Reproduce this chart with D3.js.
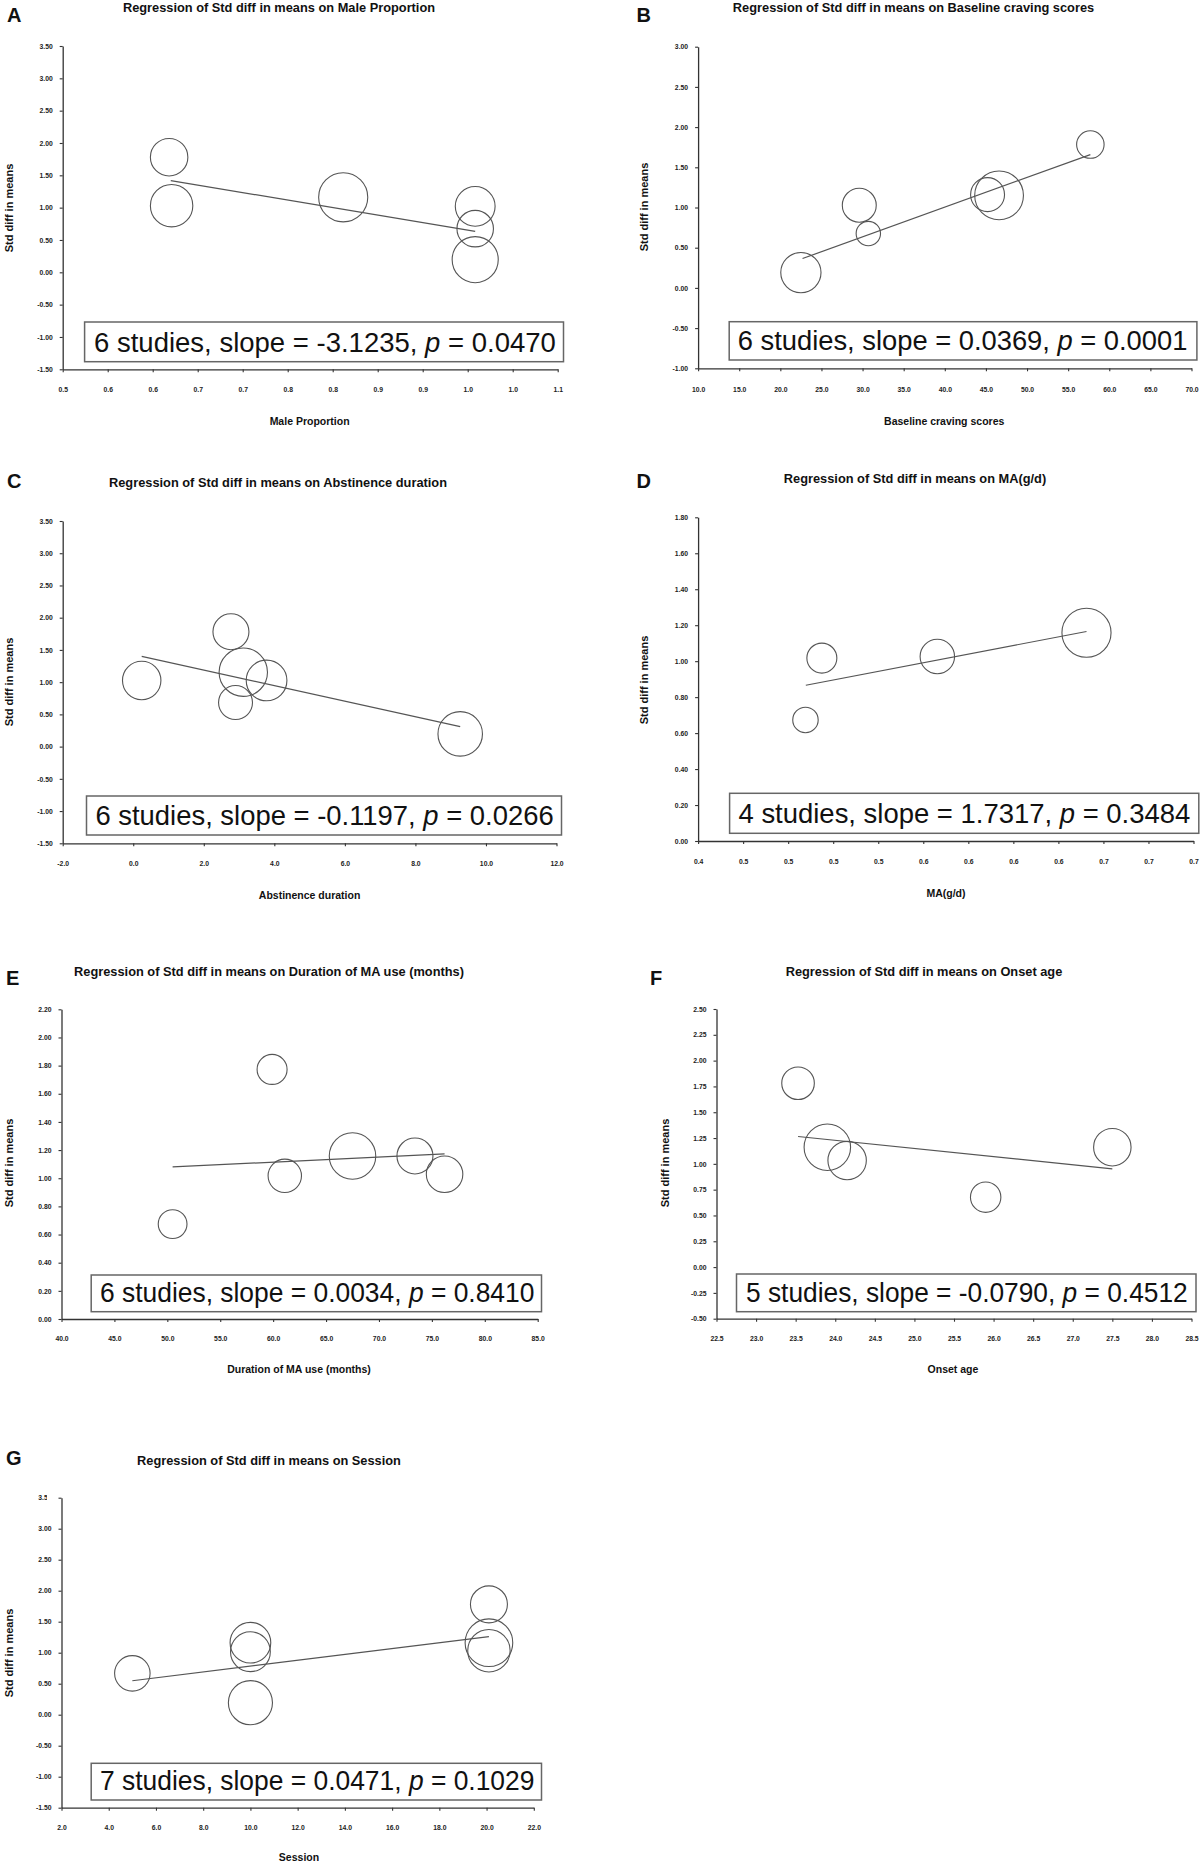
<!DOCTYPE html>
<html>
<head>
<meta charset="utf-8">
<script src="https://cdn.jsdelivr.net/npm/d3@7"></script>
<style>
  body { margin: 0; background: #fff; }
  svg { display: block; font-family: "Liberation Sans", Arial, sans-serif; }
</style>
</head>
<body>
<script>
// values
const panelLetters = ['A', 'B', 'C', 'D', 'E', 'F', 'G']
const moderators = ['Male Proportion', 'Baseline craving scores', 'Abstinence duration', 'MA(g/d)',
  'Duration of MA use (months)', 'Onset age', 'Session']
const studyCounts = [6, 6, 6, 4, 6, 5, 7]
const slopes = ['-3.1235', '0.0369', '-0.1197', '1.7317', '0.0034', '-0.0790', '0.0471']
const pValues = ['0.0470', '0.0001', '0.0266', '0.3484', '0.8410', '0.4512', '0.1029']

const xDomains = [[0.5, 1.1], [10, 70], [-2, 12], [0.44, 0.715], [40, 85], [22.5, 28.5], [2, 22]]
const xTickLabels = [
  ['0.5', '0.6', '0.6', '0.7', '0.7', '0.8', '0.8', '0.9', '0.9', '1.0', '1.0', '1.1'],
  ['10.0', '15.0', '20.0', '25.0', '30.0', '35.0', '40.0', '45.0', '50.0', '55.0', '60.0', '65.0', '70.0'],
  ['-2.0', '0.0', '2.0', '4.0', '6.0', '8.0', '10.0', '12.0'],
  ['0.4', '0.5', '0.5', '0.5', '0.5', '0.6', '0.6', '0.6', '0.6', '0.7', '0.7', '0.7'],
  ['40.0', '45.0', '50.0', '55.0', '60.0', '65.0', '70.0', '75.0', '80.0', '85.0'],
  ['22.5', '23.0', '23.5', '24.0', '24.5', '25.0', '25.5', '26.0', '26.5', '27.0', '27.5', '28.0', '28.5'],
  ['2.0', '4.0', '6.0', '8.0', '10.0', '12.0', '14.0', '16.0', '18.0', '20.0', '22.0']
]
const yTickLabels = [
  ['-1.50', '-1.00', '-0.50', '0.00', '0.50', '1.00', '1.50', '2.00', '2.50', '3.00', '3.50'],
  ['-1.00', '-0.50', '0.00', '0.50', '1.00', '1.50', '2.00', '2.50', '3.00'],
  ['-1.50', '-1.00', '-0.50', '0.00', '0.50', '1.00', '1.50', '2.00', '2.50', '3.00', '3.50'],
  ['0.00', '0.20', '0.40', '0.60', '0.80', '1.00', '1.20', '1.40', '1.60', '1.80'],
  ['0.00', '0.20', '0.40', '0.60', '0.80', '1.00', '1.20', '1.40', '1.60', '1.80', '2.00', '2.20'],
  ['-0.50', '-0.25', '0.00', '0.25', '0.50', '0.75', '1.00', '1.25', '1.50', '1.75', '2.00', '2.25', '2.50'],
  ['-1.50', '-1.00', '-0.50', '0.00', '0.50', '1.00', '1.50', '2.00', '2.50', '3.00', '3.50']
]

// studies: moderator value, std diff in means, relative weight
const maleX = [0.629, 0.632, 0.840, 1.000, 1.000, 1.000]
const maleY = [1.78, 1.03, 1.16, 1.02, 0.675, 0.196]
const maleW = [39, 50, 67, 44, 37, 59]

const cravingX = [57.7, 29.6, 30.7, 22.5, 45.2, 46.6]
const cravingY = [1.783, 1.028, 0.676, 0.19, 1.16, 1.15]
const cravingW = [21, 32, 16.5, 45, 32, 66]

const abstinenceX = [0.24, 2.77, 3.12, 3.78, 2.90, 9.27]
const abstinenceY = [1.026, 1.782, 1.155, 1.026, 0.684, 0.197]
const abstinenceW = [41, 36, 65, 46, 32, 55]

const doseX = [0.5087, 0.4996, 0.5728, 0.6556]
const doseY = [1.017, 0.673, 1.026, 1.158]
const doseW = [25, 18, 33, 67]

const durationX = [59.9, 61.1, 67.5, 73.4, 76.2, 50.5]
const durationY = [1.773, 1.017, 1.158, 1.158, 1.028, 0.674]
const durationW = [25, 31, 60, 36, 37, 23]

const onsetX = [23.53, 23.9, 24.15, 25.9, 27.5]
const onsetY = [1.781, 1.161, 1.032, 0.677, 1.161]
const onsetW = [29.5, 60, 41, 25.7, 39]

const sessionX = [5.0, 10.0, 10.0, 10.0, 20.1, 20.1, 20.1]
const sessionY = [0.667, 1.161, 1.016, 0.194, 1.78, 1.161, 1.032]
const sessionW = [35, 46, 44, 54, 38, 63, 50]

// regression line end points
const fitX = [[0.631, 1.0], [22.7, 57.7], [0.24, 9.27], [0.4998, 0.6556], [50.5, 76.2], [23.53, 27.5], [5.0, 20.1]]
const fitY = [[1.418, 0.634], [0.365, 1.658], [1.399, 0.311], [0.866, 1.165], [1.08, 1.173], [1.265, 0.952], [0.548, 1.258]]

const studyX = [maleX, cravingX, abstinenceX, doseX, durationX, onsetX, sessionX]
const studyY = [maleY, cravingY, abstinenceY, doseY, durationY, onsetY, sessionY]
const studyW = [maleW, cravingW, abstinenceW, doseW, durationW, onsetW, sessionW]

// pixel layout of every panel
const layout = [
  { x0: 62.7, x1: 557.7, yb: 369.3, yt: 46, letter: [7, 21.5], title: [279, 12], yTitle: [12.7, 208],
    xTitle: [309.6, 425.4], xLab: 392.5, box: [84.6, 322, 563.5, 361.7], txt: [94, 351.7, 462] },
  { x0: 698.1, x1: 1191.5, yb: 368.3, yt: 46.7, letter: [636.5, 21.5], title: [913.5, 12], yTitle: [648, 207],
    xTitle: [944.2, 424.5], xLab: 392, box: [729.2, 321.7, 1196.9, 360], txt: [737.7, 350, 450] },
  { x0: 62.7, x1: 556.5, yb: 843.3, yt: 521, letter: [7, 488], title: [278, 486.7], yTitle: [12.7, 682],
    xTitle: [309.6, 898.7], xLab: 866.5, box: [86.5, 796, 561.5, 835], txt: [95.4, 825, 458.5] },
  { x0: 698.1, x1: 1193.5, yb: 841, yt: 517.3, letter: [636.5, 488], title: [915, 483.3], yTitle: [648, 680],
    xTitle: [946, 897], xLab: 864.2, box: [729.6, 793.3, 1198.8, 833.3], txt: [738.5, 822.7, 452] },
  { x0: 61.5, x1: 537.7, yb: 1319, yt: 1009.3, letter: [6, 985], title: [269, 976], yTitle: [12.7, 1163],
    xTitle: [299, 1372.7], xLab: 1340.8, box: [91.2, 1275, 541.5, 1311.7], txt: [100, 1301.7, 434.6] },
  { x0: 716.5, x1: 1191.5, yb: 1318.7, yt: 1009, letter: [650, 985], title: [924, 976], yTitle: [668.5, 1163],
    xTitle: [953, 1372.7], xLab: 1340.8, box: [736.5, 1274, 1196, 1311.7], txt: [746, 1301.7, 442] },
  { x0: 61.5, x1: 533.8, yb: 1807.7, yt: 1497.7, letter: [6, 1465], title: [269, 1465], yTitle: [12.7, 1653],
    xTitle: [299, 1861], xLab: 1830.2, box: [91.2, 1763.3, 541.5, 1800], txt: [100, 1790, 434.6] }
]

const svg = d3.select('body')
  .append('svg')
  .attr('width', 1200)
  .attr('height', 1866)

// the top label of panel G is cut in the original
svg.append('defs')
  .append('clipPath')
  .attr('id', 'cutLabel')
  .attr('clipPathUnits', 'userSpaceOnUse')
  .append('rect')
  .attr('x', -40).attr('y', -10).attr('width', 25.5).attr('height', 20)

const r = d3.scaleSqrt().domain([0, 100]).range([0, 30])

panelLetters.forEach((letter, i) => {
  const L = layout[i]
  const g = svg.append('g')

  const yVals = yTickLabels[i].map(Number)
  const y = d3.scaleLinear()
    .domain([yVals[0], yVals[yVals.length - 1]])
    .range([L.yb, L.yt])

  const x = d3.scaleLinear()
    .domain(xDomains[i])
    .range([L.x0, L.x1])

  const n = xTickLabels[i].length
  const xVals = d3.range(n).map(k => xDomains[i][0] + k * (xDomains[i][1] - xDomains[i][0]) / (n - 1))

  // panel letter and title
  g.append('text')
    .attr('x', L.letter[0]).attr('y', L.letter[1])
    .attr('font-size', 20).attr('font-weight', 'bold').attr('fill', '#111')
    .text(letter)

  g.append('text')
    .attr('x', L.title[0]).attr('y', L.title[1])
    .attr('text-anchor', 'middle')
    .attr('font-size', 12.8).attr('font-weight', 'bold').attr('fill', '#111')
    .text('Regression of Std diff in means on ' + moderators[i])

  // axes
  const yAxisGroup = g.append('g')
    .attr('transform', `translate(${L.x0},0)`)
    .call(d3.axisLeft(y)
      .tickValues(yVals)
      .tickFormat((d, k) => yTickLabels[i][k])
      .tickSize(3)
      .tickSizeOuter(0)
      .tickPadding(7))

  const xAxisGroup = g.append('g')
    .attr('transform', `translate(0,${L.yb})`)
    .call(d3.axisBottom(x)
      .tickValues(xVals)
      .tickFormat((d, k) => xTickLabels[i][k])
      .tickSize(3)
      .tickSizeOuter(0))

  xAxisGroup.selectAll('text')
    .attr('y', L.xLab - L.yb)
    .attr('dy', null)

  ;[yAxisGroup, xAxisGroup].forEach(ax => {
    ax.select('.domain').attr('stroke', '#333').attr('stroke-width', 1.3)
    ax.selectAll('line').attr('stroke', '#333').attr('stroke-width', 1.1)
    ax.selectAll('text')
      .attr('font-size', 6.8).attr('font-weight', 'bold').attr('fill', '#222')
      .attr('font-family', '"Liberation Sans", Arial, sans-serif')
  })

  if (letter === 'G') {
    yAxisGroup.selectAll('.tick').filter((d, k) => k === yVals.length - 1)
      .select('text').attr('clip-path', 'url(#cutLabel)')
  }

  // axis titles
  g.append('text')
    .attr('transform', `translate(${L.yTitle[0]},${L.yTitle[1]}) rotate(-90)`)
    .attr('text-anchor', 'middle')
    .attr('font-size', 11).attr('font-weight', 'bold').attr('fill', '#111')
    .text('Std diff in means')

  g.append('text')
    .attr('x', L.xTitle[0]).attr('y', L.xTitle[1])
    .attr('text-anchor', 'middle')
    .attr('font-size', 10.5).attr('font-weight', 'bold').attr('fill', '#111')
    .text(moderators[i])

  // studies
  const pts = studyX[i].map((v, k) => ({ x: v, y: studyY[i][k], w: studyW[i][k] }))
  g.selectAll('circle.study')
    .data(pts)
    .enter()
    .append('circle')
    .attr('class', 'study')
    .attr('cx', d => x(d.x))
    .attr('cy', d => y(d.y))
    .attr('r', d => r(d.w))
    .attr('fill', 'none')
    .attr('stroke', '#555')
    .attr('stroke-width', 1.1)

  // regression line
  g.append('path')
    .datum(fitX[i].map((v, k) => [v, fitY[i][k]]))
    .attr('d', d3.line().x(d => x(d[0])).y(d => y(d[1])))
    .attr('fill', 'none')
    .attr('stroke', '#555')
    .attr('stroke-width', 1.2)

  // annotation box
  g.append('rect')
    .attr('x', L.box[0]).attr('y', L.box[1])
    .attr('width', L.box[2] - L.box[0]).attr('height', L.box[3] - L.box[1])
    .attr('fill', '#fff')
    .attr('stroke', '#666')
    .attr('stroke-width', 1.5)

  const t = g.append('text')
    .attr('x', 0).attr('y', 0)
    .attr('font-size', 28).attr('fill', '#111')
  t.append('tspan').text(`${studyCounts[i]} studies, slope = ${slopes[i]}, `)
  t.append('tspan').attr('font-style', 'italic').text('p')
  t.append('tspan').text(` = ${pValues[i]}`)

  // squeeze the line horizontally to the width it has in the figure
  const natural = t.node().getComputedTextLength()
  t.attr('transform', `translate(${L.txt[0]},${L.txt[1]}) scale(${L.txt[2] / natural},1)`)
})
</script>
</body>
</html>
